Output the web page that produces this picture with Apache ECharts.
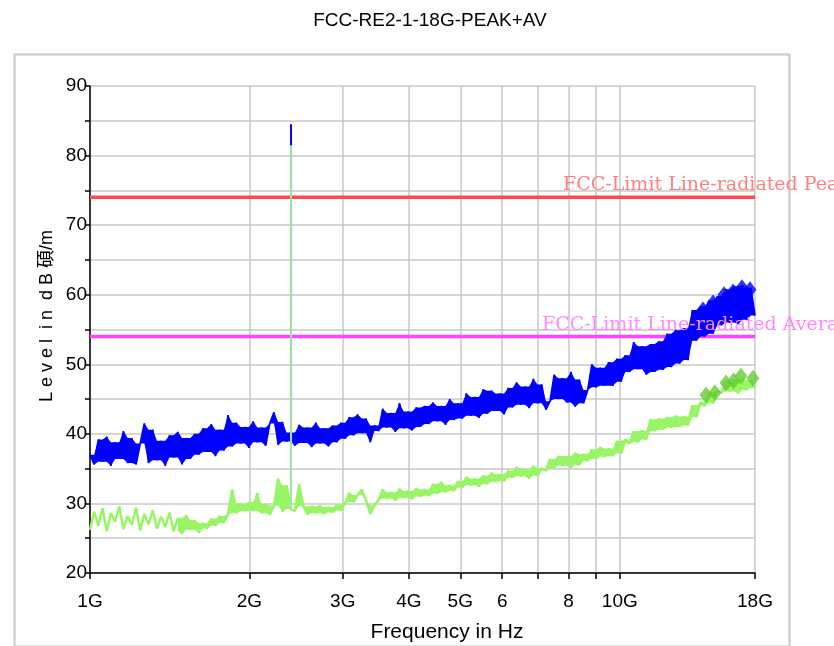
<!DOCTYPE html>
<html>
<head>
<meta charset="utf-8">
<title>FCC-RE2-1-18G-PEAK+AV</title>
<script src="https://cdn.jsdelivr.net/npm/echarts@6/dist/echarts.min.js"></script>
<style>
  html, body { margin: 0; padding: 0; background: #fff; }
  #chart { width: 834px; height: 646px; }
</style>
</head>
<body>
<div id="chart"></div>
<script>
// FCC radiated emission scan, 1-18 GHz, peak + average detector.
// Sweep points are log-spaced between START_GHZ and STOP_GHZ; the level
// values below were read off the plot by hand.
var START_GHZ = 1;
var STOP_GHZ = 18;

var peakLevels = [
  37.0, 35.6, 39.2, 36.0, 39.6, 35.4, 38.8, 36.4, 40.4, 35.8, 39.4, 35.6, 38.6, 41.5,
  35.8, 40.6, 36.2, 39.0, 35.4, 39.8, 36.6, 40.3, 35.6, 39.4, 36.4, 40.0,
  37.0, 40.8, 37.4, 41.4, 36.8, 40.6, 37.6, 42.7,
  38.2, 41.6, 38.6, 41.0, 38.0, 41.8, 38.8, 40.9, 38.3, 41.5, 43.1, 38.4, 41.7, 38.9,
  40.2,
  38.3, 41.3, 38.7, 40.9, 38.1, 41.6, 38.6, 40.8, 38.2, 41.2, 38.8, 41.6,
  39.3, 42.4, 39.8, 42.8, 40.1, 42.2,
  38.8, 41.2,
  40.4, 43.6, 40.9, 43.0, 40.3, 44.4, 40.8, 43.2, 40.5, 43.8, 41.0, 44.0,
  41.4, 44.5, 41.8, 44.0, 41.3, 45.0, 42.0, 44.4,
  42.2, 45.8, 42.6, 45.3, 42.3, 46.4,
  42.9, 46.2, 43.3, 45.8, 42.8, 46.6,
  43.8, 47.4, 44.2, 46.8, 43.7, 47.9, 44.4, 47.1,
  43.5,
  44.7, 48.5, 45.0, 48.0, 44.5, 48.9,
  43.9, 47.8, 44.4,
  46.3, 50.0, 46.7, 49.5, 46.9, 50.3,
  46.9, 50.8, 47.5, 51.3,
  48.9, 53.2, 49.3,
  52.6, 48.5, 52.9, 48.9, 53.3, 49.2,
  54.4, 49.6, 54.9, 50.1, 55.2, 50.6,
  57.8, 53.4, 58.3,
  54.0, 59.2, 54.4, 59.8,
  55.6, 60.8, 56.0, 61.2, 55.8, 61.4, 56.4, 61.0, 57.0
];

var avgLevels = [
  26.2, 28.8, 26.8, 29.3, 26.0, 28.6, 27.4, 29.6, 26.3, 28.2, 26.9, 29.4, 26.1, 28.5, 27.0, 29.0, 26.4, 28.1, 26.6, 28.7,
  26.0, 27.9, 25.6, 28.3, 26.2, 27.6, 25.8,
  27.2, 26.4, 27.8, 26.8, 28.2, 27.2, 28.5,
  32.0, 28.6, 30.0, 28.9, 30.2,
  28.9, 31.5, 28.6, 29.9, 28.4, 29.7, 33.6, 28.8, 32.6,
  29.2,
  28.9, 32.8, 29.6, 28.4, 29.6, 28.6, 29.7, 28.5, 29.5, 28.7, 29.8, 29.0,
  30.0, 31.5, 30.2, 31.2, 32.0, 30.4,
  28.5, 29.7,
  30.5, 32.0, 30.7, 31.6, 30.4, 32.1, 30.8, 31.8, 30.6, 32.2, 31.0, 32.0,
  31.1, 32.8, 31.4, 33.1, 31.6, 32.6, 31.8, 33.2,
  32.3, 33.8, 32.6, 33.6, 32.4, 34.0,
  32.8, 34.4, 33.1, 34.2, 33.2, 34.7,
  33.7, 35.2, 33.9, 35.0, 33.6, 35.4, 34.0, 35.1,
  34.7, 36.4, 35.1, 36.8, 35.4,
  36.8, 35.1, 37.3, 35.5, 37.1,
  36.1, 37.8, 36.4, 38.1, 36.7, 37.9,
  36.8, 39.0, 37.2, 39.2,
  38.6, 40.4, 38.8, 40.5, 39.2,
  42.1, 40.4, 42.2, 40.6,
  42.4, 40.9, 42.6, 41.0, 42.5, 41.2,
  44.1, 42.4, 44.6,
  44.0, 46.0, 44.4, 46.2,
  45.9, 47.6, 46.1, 47.8, 45.8, 47.9, 46.3, 47.7, 46.6
];

// 2.4 GHz carrier (single sweep line)
var spikeGhz = 2.396;
var peakSpike = [40.0, 84.5];
var avgSpike = [29.2, 81.5];

// final measurement markers
var peakMarkGhz = [14.36, 15.0, 15.73, 16.36, 17.01, 17.61];
var peakMarkLevel = [57.8, 58.8, 60.0, 60.4, 61.0, 60.7];
var avgMarkGhz = [14.55, 15.12, 15.87, 16.4, 16.93, 17.84];
var avgMarkLevel = [45.6, 45.9, 47.3, 47.6, 48.3, 48.0];

var peakLimit = 74;
var avgLimit = 54;

var tickGhz = [1, 2, 3, 4, 5, 6, 7, 8, 9, 10, 18];
var labelGhz = [1, 2, 3, 4, 5, 6, 8, 10, 18];
var labelText = { 1: "1G", 2: "2G", 3: "3G", 4: "4G", 5: "5G", 6: "6", 8: "8", 10: "10G", 18: "18G" };

(function () {
  "use strict";

  var FONT = "'Liberation Sans', Arial, 'Noto Sans CJK SC', sans-serif";
  var SERIF = "'DejaVu Serif', 'Liberation Serif', serif";

  // ---------------- helpers ----------------
  function sweep(levels) {
    var n = levels.length;
    return levels.map(function (v, i) {
      return [START_GHZ * Math.pow(STOP_GHZ / START_GHZ, i / (n - 1)), v];
    });
  }
  function pairs(xs, ys) {
    return xs.map(function (x, i) { return [x, ys[i]]; });
  }

  // The original trace is so dense it reads as a solid band with ragged
  // edges. Fill between the peaks and the troughs of the zigzag; the upper
  // edge dips to the lower neighbouring peak at each trough (and the other
  // way round below) so the edges stay jagged.
  function bandSeries(levels, color, fromGhz, z) {
    var pts = sweep(levels);
    var hi = [], lo = [];
    pts.forEach(function (p, i) {
      if (p[0] < fromGhz) return;
      var prev = pts[i - 1] ? pts[i - 1][1] : p[1];
      var next = pts[i + 1] ? pts[i + 1][1] : p[1];
      hi.push([p[0], Math.max(p[1], Math.min(prev, next))]);
      lo.push([p[0], Math.min(p[1], Math.max(prev, next))]);
    });
    return {
      type: "custom", silent: true, z: z,
      data: [[fromGhz, levels[0]]],
      renderItem: function (params, api) {
        var poly = hi.concat(lo.slice().reverse()).map(function (p) { return api.coord(p); });
        return { type: "polygon", shape: { points: poly }, style: { fill: color } };
      },
    };
  }

  var chart = echarts.init(document.getElementById("chart"), null, { renderer: "canvas" });

  chart.setOption({
    animation: false,
    backgroundColor: "#fff",
    title: {
      text: "FCC-RE2-1-18G-PEAK+AV",
      left: 425, top: 6, textAlign: "center",
      textStyle: { fontFamily: FONT, fontSize: 19, fontWeight: "normal", color: "#000" },
    },
    grid: { left: 90, top: 86, width: 665, height: 487, containLabel: false },
    xAxis: {
      type: "log", logBase: 10, min: START_GHZ, max: STOP_GHZ,
      axisLine: { lineStyle: { color: "#000", width: 1.5 } },
      axisTick: { show: true, length: 6, customValues: tickGhz, lineStyle: { color: "#000", width: 1.5 } },
      axisLabel: {
        customValues: labelGhz, margin: 19,
        fontFamily: FONT, fontSize: 19, color: "#000",
        formatter: function (v) { return labelText[Math.round(v)] || ""; },
      },
      splitLine: { show: true, lineStyle: { color: "#c8c8c8", width: 1.5 } },
    },
    yAxis: {
      type: "value", min: 20, max: 90, interval: 5,
      axisLine: { show: true, lineStyle: { color: "#000", width: 1.5 } },
      axisTick: { show: true, length: 5, lineStyle: { color: "#000", width: 1.5 } },
      axisLabel: {
        margin: 3, fontFamily: FONT, fontSize: 19, color: "#000",
        formatter: function (v) { return v % 10 === 0 ? String(v) : ""; },
      },
      splitLine: { show: true, lineStyle: { color: "#c8c8c8", width: 1.5 } },
    },
    series: [
      {
        name: "peak limit", type: "line", silent: true, showSymbol: false,
        data: [[START_GHZ, peakLimit], [STOP_GHZ, peakLimit]],
        lineStyle: { color: "#ff4a4a", width: 3.5 }, z: 2,
      },
      {
        name: "average limit", type: "line", silent: true, showSymbol: false,
        data: [[START_GHZ, avgLimit], [STOP_GHZ, avgLimit]],
        lineStyle: { color: "#ff44ff", width: 3.5 }, z: 2,
      },
      bandSeries(peakLevels, "#0000ff", START_GHZ, 3),
      {
        name: "peak", type: "line", showSymbol: false,
        data: sweep(peakLevels),
        lineStyle: { color: "#0000ff", width: 1.8 }, z: 3,
      },
      {
        name: "peak spike", type: "line", showSymbol: false,
        data: [[spikeGhz, peakSpike[0]], [spikeGhz, peakSpike[1]]],
        lineStyle: { color: "#0000ff", width: 2 }, z: 3,
      },
      bandSeries(avgLevels, "#99f566", 1.45, 4),
      {
        name: "average", type: "line", showSymbol: false,
        data: sweep(avgLevels),
        lineStyle: { color: "#99f566", width: 2.5 }, z: 4,
      },
      {
        name: "average spike", type: "line", showSymbol: false,
        data: [[spikeGhz, avgSpike[0]], [spikeGhz, avgSpike[1]]],
        lineStyle: { color: "#9fe6a0", width: 2 }, z: 4,
      },
      {
        name: "peak final", type: "scatter", symbol: "diamond", symbolSize: [13, 17],
        data: pairs(peakMarkGhz, peakMarkLevel),
        itemStyle: { color: "#0000ff" }, z: 5,
      },
      {
        name: "average final", type: "scatter", symbol: "diamond", symbolSize: [13, 17],
        data: pairs(avgMarkGhz, avgMarkLevel),
        itemStyle: { color: "#66cc33" }, z: 5,
      },
    ],
  });

  var yPeak = chart.convertToPixel({ gridIndex: 0 }, [START_GHZ, peakLimit])[1];
  var yAvg = chart.convertToPixel({ gridIndex: 0 }, [START_GHZ, avgLimit])[1];

  chart.setOption({
    graphic: [
      {
        type: "rect", left: 12, top: 52, z: -1, silent: true,
        shape: { width: 775, height: 592 },
        style: { fill: "none", stroke: "#c8c8c8", lineWidth: 2 },
      },
      {
        type: "text", left: 563, top: yPeak - 22, z: 10, silent: true,
        style: { text: "FCC-Limit Line-radiated Peak", font: "19px " + SERIF, fill: "#ff8080" },
      },
      {
        type: "text", left: 542, top: yAvg - 21, z: 10, silent: true,
        style: { text: "FCC-Limit Line-radiated Average", font: "19px " + SERIF, fill: "#ff88ff" },
      },
      {
        type: "text", x: 47, y: 316, rotation: Math.PI / 2, silent: true,
        style: {
          text: "L e v e l  i n  d B 碩/m", font: "18px " + FONT, fill: "#000",
          align: "center", verticalAlign: "middle",
        },
      },
      {
        type: "text", x: 447, y: 632, silent: true,
        style: {
          text: "Frequency in Hz", font: "21px " + FONT, fill: "#000",
          align: "center", verticalAlign: "middle",
        },
      },
    ],
  });
})();
</script>
</body>
</html>
